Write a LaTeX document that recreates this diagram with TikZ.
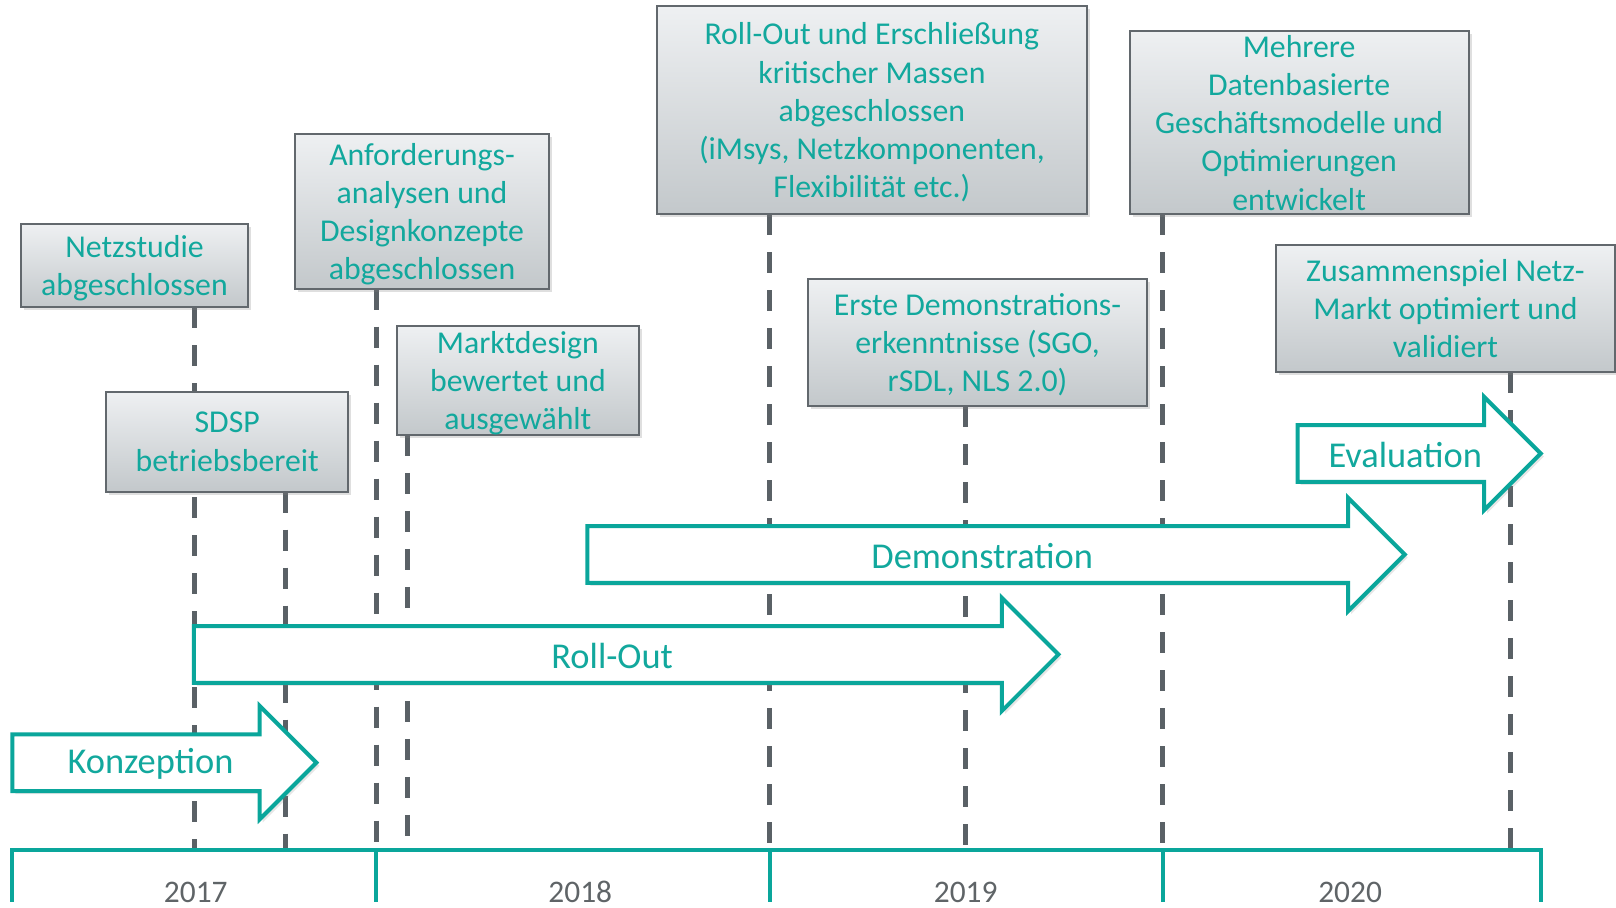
\documentclass[tikz,border=0pt]{standalone}
\usepackage{fontspec}
\setmainfont{Carlito}
\usepackage{xcolor}
\usepackage{tikz}
\usetikzlibrary{shadows}

\definecolor{tealtext}{HTML}{12A89D}
\definecolor{tealline}{HTML}{0AA69B}
\definecolor{boxgray}{HTML}{62686D}
\definecolor{dashgray}{HTML}{5A6166}
\definecolor{boxtop}{HTML}{EEF0F2}
\definecolor{boxbottom}{HTML}{C3C8CB}
\definecolor{yeargray}{HTML}{5F6467}

\tikzset{
    milestone/.style={draw=boxgray, line width=1pt, top color=boxtop, bottom color=boxbottom,
        drop shadow={opacity=0.25, shadow xshift=1.5pt, shadow yshift=-1.5pt},
        text=tealtext, align=center, inner sep=0pt,
        execute at begin node=\strut, execute at end node=\strut, text depth=-0.9pt,
        font=\fontsize{15.9pt}{19.1pt}\selectfont},
    mline/.style={draw=dashgray, line width=2.5pt, dash pattern=on 10.5pt off 8.5pt},
    phase/.style={draw=tealline, line width=2pt, fill=white,
        drop shadow={opacity=0.2, shadow xshift=1.5pt, shadow yshift=-1.5pt}},
    phasetext/.style={text=tealtext, inner sep=0pt, font=\fontsize{18.2pt}{22pt}\selectfont},
    axis/.style={draw=tealline, line width=2pt},
    yearlabel/.style={text=yeargray, anchor=base, inner sep=0pt, font=\fontsize{15.7pt}{19pt}\selectfont}
}

\begin{document}
\begin{tikzpicture}[x=0.5153pt, y=-0.5153pt]
    \useasboundingbox (0,0) rectangle (1568,881);

    % milestone positions on the time axis
    \coordinate (m1) at (189,825);
    \coordinate (m2) at (277,825);
    \coordinate (m3) at (365,825);
    \coordinate (m4) at (395,825);
    \coordinate (m5) at (747,825);
    \coordinate (m6) at (937,825);
    \coordinate (m7) at (1128,825);
    \coordinate (m8) at (1466,825);

    \path (130.5,298) coordinate (netzb) (220.5,477) coordinate (sdspb)
          (409.5,280) coordinate (anfb) (502.5,422) coordinate (marktb)
          (846,208) coordinate (massb) (948.5,394) coordinate (ersteb)
          (1260.5,208) coordinate (mehrb) (1402.5,361) coordinate (zusb);

    \draw[mline] (netzb -| m1) -- (m1);
    \draw[mline] (sdspb -| m2) -- (m2);
    \draw[mline] (anfb -| m3) -- (m3);
    \draw[mline] (marktb -| m4) -- (m4);
    \draw[mline] (massb -| m5) -- (m5);
    \draw[mline] (ersteb -| m6) -- (m6);
    \draw[mline] (mehrb -| m7) -- (m7);
    \draw[mline] (zusb -| m8) -- (m8);

    % milestones
    \node[milestone, minimum width=113.9pt, minimum height=41.7pt] (netz) at (130.5,257.5) {Netzstudie\\abgeschlossen};
    \node[milestone, minimum width=121.1pt, minimum height=50pt] (sdsp) at (220.5,428.5) {SDSP\\betriebsbereit};
    \node[milestone, minimum width=127.3pt, minimum height=77.3pt] (anf) at (409.5,205) {Anforderungs-\\analysen und\\Designkonzepte\\abgeschlossen};
    \node[milestone, minimum width=121.1pt, minimum height=54.6pt] (markt) at (502.5,369) {Marktdesign\\bewertet und\\ausgewählt};
    \node[milestone, minimum width=215.4pt, minimum height=104.1pt] (mass) at (846,107) {Roll-Out und Erschließung\\kritischer Massen\\abgeschlossen\\(iMsys, Netzkomponenten,\\Flexibilität etc.)};
    \node[milestone, minimum width=169.5pt, minimum height=63.4pt] (erste) at (948.5,332.5) {Erste Demonstrations-\\erkenntnisse (SGO,\\rSDL, NLS 2.0)};
    \node[milestone, minimum width=169.5pt, minimum height=91.7pt] (mehr) at (1260.5,119) {Mehrere\\Datenbasierte\\Geschäftsmodelle und\\Optimierungen\\entwickelt};
    \node[milestone, minimum width=169.5pt, minimum height=63.4pt] (zus) at (1402.5,299.5) {Zusammenspiel Netz-\\Markt optimiert und\\validiert};

    % phases
    \foreach \xa/\xb/\ym/\nm/\lbl in {12/252/740/konz/Konzeption, 188/972/635/roll/Roll-Out,
                                      570/1308/538/demo/Demonstration, 1259/1440/440/eval/Evaluation}{
        \draw[phase] (\xa,\ym-27.5) -- (\xb,\ym-27.5) -- (\xb,\ym-55) -- (\xb+55,\ym)
            -- (\xb,\ym+55) -- (\xb,\ym+27.5) -- (\xa,\ym+27.5) -- cycle;
        \node[phasetext] (\nm) at ({(\xa+\xb)/2+14},\ym+1.5) {\lbl};
    }

    % time axis
    \draw[axis] (12,875) -- (12,825) -- (1495,825) -- (1495,875);
    \foreach \x in {365,747,1128}
        \draw[axis] (\x,825) -- (\x,875);
    \foreach \x/\yr in {190/2017, 563/2018, 937/2019, 1310/2020}
        \node[yearlabel] (y\yr) at (\x,876) {\yr};
\end{tikzpicture}
\end{document}
